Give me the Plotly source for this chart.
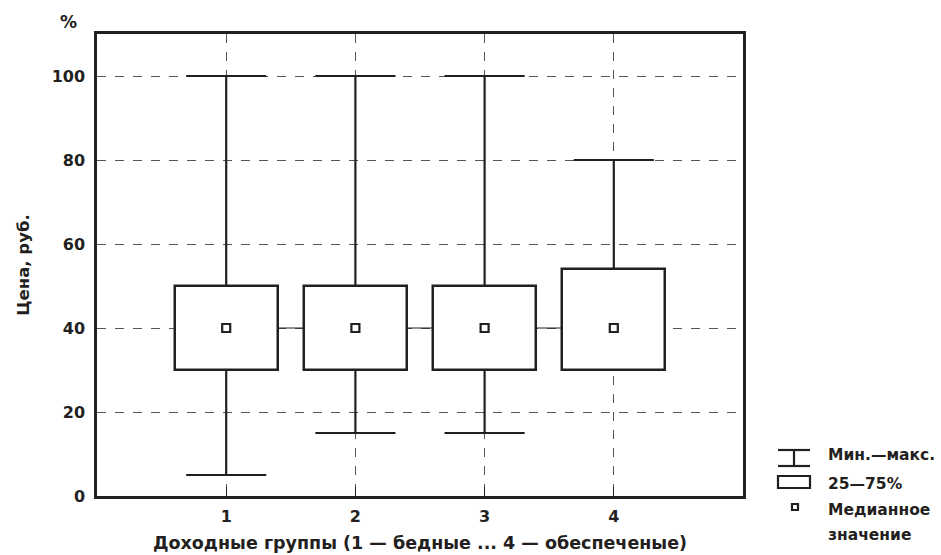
import plotly.graph_objects as go

groups = [1, 2, 3, 4]
mins = [5, 15, 15, 30]
q1s = [30, 30, 30, 30]
medians = [40, 40, 40, 40]
q3s = [50, 50, 50, 54]
maxs = [100, 100, 100, 80]
tick_labels = ["1", "2", "3", "4"]
y_ticks = [0, 20, 40, 60, 80, 100]

INK = "#231f20"
GRID = "#555555"
FONT = "DejaVu Sans"
BOX_W = 0.8
CAP_W = 0.62

fig = go.Figure()

# median connecting line between boxes
cx, cy = [], []
for i in range(len(groups) - 1):
    cx += [groups[i] + BOX_W / 2, groups[i + 1] - BOX_W / 2, None]
    cy += [medians[i], medians[i + 1], None]
fig.add_trace(go.Scatter(x=cx, y=cy, mode="lines", line=dict(color=INK, width=1),
                         hoverinfo="skip", showlegend=False))

# whiskers
wx, wy = [], []
for g, lo, a, b, hi in zip(groups, mins, q1s, q3s, maxs):
    if lo < a:
        wx += [g, g, None]
        wy += [lo, a, None]
    if hi > b:
        wx += [g, g, None]
        wy += [b, hi, None]
    wx += [g - CAP_W / 2, g + CAP_W / 2, None]
    wy += [hi, hi, None]
    if lo < a:
        wx += [g - CAP_W / 2, g + CAP_W / 2, None]
        wy += [lo, lo, None]
fig.add_trace(go.Scatter(x=wx, y=wy, mode="lines", line=dict(color=INK, width=2.2),
                         hoverinfo="skip", showlegend=False))

# boxes (25-75%)
fig.add_trace(go.Bar(x=groups, y=[b - a for a, b in zip(q1s, q3s)], base=q1s,
                     width=BOX_W, marker=dict(color="white", line=dict(color=INK, width=2.5)),
                     showlegend=False))

# medians
fig.add_trace(go.Scatter(x=groups, y=medians, mode="markers",
                         marker=dict(symbol="square", size=8, color="white",
                                     line=dict(color=INK, width=2.2)),
                         showlegend=False))

fig.update_layout(
    width=941, height=555,
    margin=dict(l=97, r=198, t=34, b=59),
    plot_bgcolor="white", paper_bgcolor="white",
    font=dict(family=FONT, size=16, color=INK, weight="bold"),
    showlegend=False,
    bargap=0,
)
fig.update_xaxes(
    range=[0, 5], tickvals=groups, ticktext=tick_labels,
    showgrid=True, gridcolor=GRID, griddash="dash", gridwidth=1.2,
    showline=True, linecolor=INK, linewidth=2.5, mirror=True,
    ticks="inside", ticklen=9, tickcolor=INK, tickwidth=1.2,
    zeroline=False, ticklabelstandoff=4, automargin=False,
    title=dict(text="Доходные группы (1 — бедные ... 4 — обеспеченые)",
               font=dict(size=17.5), standoff=12),
)
fig.update_yaxes(
    range=[0, 110], tickvals=y_ticks,
    showgrid=True, gridcolor=GRID, griddash="dash", gridwidth=1.2,
    showline=True, linecolor=INK, linewidth=2.5, mirror=True,
    ticks="", zeroline=False, ticklabelstandoff=6, automargin=False,
    title=dict(text="Цена, руб.", font=dict(size=16.5), standoff=18),
)

def px(xp):
    return (xp - 97) / 646

def py(yp):
    return (496 - yp) / 462

# "%" unit label
fig.add_annotation(x=px(68), y=py(22), xref="paper", yref="paper", text="%",
                   showarrow=False, xanchor="center", yanchor="middle", font=dict(size=17))

# custom legend
line = dict(color=INK, width=2.2)
fig.add_shape(type="line", xref="paper", yref="paper", x0=px(778), x1=px(810), y0=py(450), y1=py(450), line=line)
fig.add_shape(type="line", xref="paper", yref="paper", x0=px(794), x1=px(794), y0=py(450), y1=py(466), line=line)
fig.add_shape(type="line", xref="paper", yref="paper", x0=px(778), x1=px(810), y0=py(466), y1=py(466), line=line)
fig.add_shape(type="rect", xref="paper", yref="paper", x0=px(778), x1=px(810), y0=py(476), y1=py(488),
              line=line, fillcolor="white")
fig.add_shape(type="rect", xref="paper", yref="paper", x0=px(792), x1=px(798), y0=py(504), y1=py(510),
              line=line, fillcolor="white")

legend_texts = ["Мин.—макс.", "25—75%", "Медианное", "значение"]
legend_y = [455, 484, 510, 535]
for t, yy in zip(legend_texts, legend_y):
    fig.add_annotation(x=px(826), y=py(yy), xref="paper", yref="paper", text=t,
                       showarrow=False, xanchor="left", yanchor="middle", font=dict(size=15.5))

fig.write_html("out.html", config={"displayModeBar": False},
               post_script="document.body.style.margin='0';")
